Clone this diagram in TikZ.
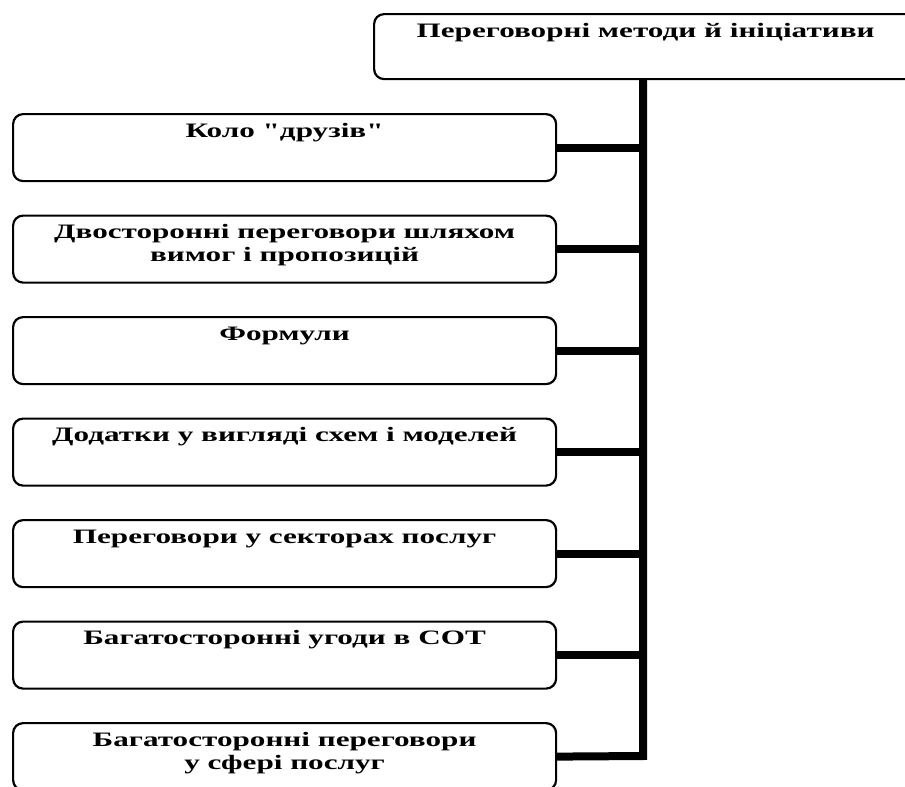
\documentclass[tikz,border=0pt]{standalone}
\usepackage{fontspec}
\newfontfamily\boxfont[FakeStretch=1.52]{Liberation Serif}
\tikzset{
  box/.style={draw,rounded corners=10pt,line width=2.2pt,minimum width=543pt,
    inner sep=6pt,text height=17pt,text depth=38pt,align=center,anchor=north west,
    font=\boxfont\bfseries\fontsize{20.5}{23}\selectfont},
  twoline/.style={text height=40pt,text depth=15pt},
  link/.style={line width=8pt}
}
\begin{document}
\begin{tikzpicture}[x=1pt,y=-1pt]
  \useasboundingbox (0,0) rectangle (905,787);
  % Define trunk position
  \def\trunk{643}

  % Top box
  \node[box,text depth=36pt] (T) at (373,13) {Переговорні методи й ініціативи};

  % Left boxes
  \foreach \s/\t [count=\i] in {box/{Коло "друзів"},
      twoline/{Двосторонні переговори шляхом\\вимог і пропозицій},
      box/{Формули},
      box/{Додатки у вигляді схем і моделей},
      box/{Переговори у секторах послуг},
      box/{Багатосторонні угоди в СОТ},
      twoline/{Багатосторонні переговори\\у сфері послуг}}
    \node[box,\s] (B-\i) at (12,{113+(\i-1)*101.5}) {\t};

  % Trunk
  \draw[link] (T.south -| \trunk,0) -- (\trunk,756) -- (B-7.east);

  % Connect boxes to trunk
  \foreach \i in {1,...,6}
    \draw[link] (B-\i.east) -- (B-\i.east -| \trunk,0);
\end{tikzpicture}
\end{document}
